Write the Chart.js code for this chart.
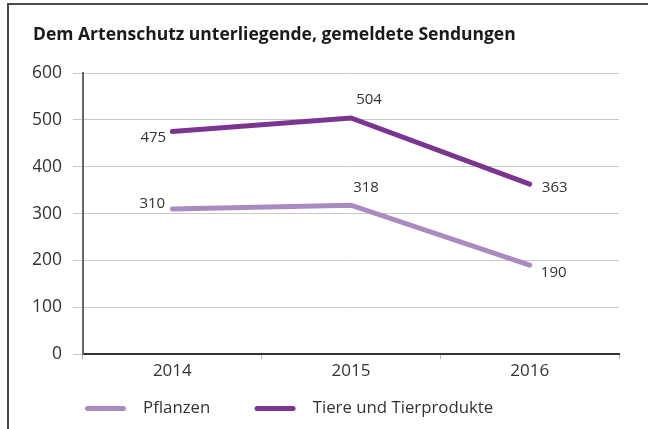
<!DOCTYPE html>
<html>
<head>
<meta charset="utf-8">
<script src="https://cdn.jsdelivr.net/npm/chart.js@4"></script>
<style>
  body { margin: 0; background: #fff; }
  #wrap { position: relative; width: 648px; height: 429px; overflow: hidden; }
  #frame { position: absolute; left: 7px; top: 3px; width: 700px; height: 500px;
           border-left: 2px solid #4a4a4a; border-top: 2px solid #4a4a4a; }
  canvas { position: absolute; left: 0; top: 0; }
</style>
</head>
<body>
<div id="wrap">
  <div id="frame"></div>
  <canvas id="chart" width="648" height="429"></canvas>
</div>
<script>
// Daten
const jahre = ['2014', '2015', '2016'];
const pflanzen = [310, 318, 190];
const tiere = [475, 504, 363];

// Farben
const colorTiere = '#7b3590';
const colorPflanzen = '#a98bc2';

const fontFamily = '"Open Sans", sans-serif';

// Versatz der Wertbeschriftungen je Punkt (px)
const labelOffsets = [
    [[-20, -5], [15, -17], [24, 8]],
    [[-19, 6], [18, -18], [25, 4]]
];

const valueLabels = {
    id: 'valueLabels',
    afterDatasetsDraw: (chart) => {
        const ctx = chart.ctx;
        ctx.save();
        ctx.font = '15px ' + fontFamily;
        ctx.fillStyle = '#333';
        ctx.textAlign = 'center';
        ctx.textBaseline = 'middle';
        chart.data.datasets.forEach((ds, i) => {
            const meta = chart.getDatasetMeta(i);
            meta.data.forEach((pt, j) => {
                const off = labelOffsets[i][j];
                ctx.fillText(String(ds.data[j]), pt.x + off[0], pt.y + off[1]);
            });
        });
        ctx.restore();
    }
};

const config = {
    type: 'line',
    data: {
        labels: jahre,
        datasets: [{
            label: 'Pflanzen',
            data: pflanzen,
            borderColor: colorPflanzen,
            backgroundColor: colorPflanzen,
            borderWidth: 5,
            pointRadius: 0,
            borderCapStyle: 'round',
            tension: 0
        }, {
            label: 'Tiere und Tierprodukte',
            data: tiere,
            borderColor: colorTiere,
            backgroundColor: colorTiere,
            borderWidth: 5,
            pointRadius: 0,
            borderCapStyle: 'round',
            tension: 0
        }]
    },
    options: {
        responsive: false,
        animation: false,
        layout: { padding: { left: 33, right: 29, top: 0, bottom: 2 } },
        plugins: {
            tooltip: { enabled: false },
            title: {
                display: true,
                text: 'Dem Artenschutz unterliegende, gemeldete Sendungen',
                align: 'start',
                color: '#1a1a1a',
                font: { family: fontFamily, size: 17.5, weight: 'bold' },
                padding: { top: 24.5, bottom: 27.5 }
            },
            legend: {
                position: 'bottom',
                align: 'start',
                fullSize: false,
                labels: {
                    boxWidth: 41,
                    boxHeight: 5,
                    useBorderRadius: true,
                    borderRadius: 2.5,
                    padding: 2,
                    color: '#333',
                    font: { family: fontFamily, size: 16.8 },
                    generateLabels: (chart) => {
                        const items = Chart.defaults.plugins.legend.labels.generateLabels(chart);
                        return items.map((it, i) => {
                            it.lineWidth = 0;
                            it.text = '  ' + it.text + (i === 0 ? '\u2003\u2003  ' : '');
                            return it;
                        });
                    }
                }
            }
        },
        scales: {
            x: {
                offset: true,
                grid: { offset: true, drawOnChartArea: false, tickLength: 5, color: '#bbb' },
                border: { display: true, color: '#333', width: 2 },
                ticks: { color: '#333', padding: 2, font: { family: fontFamily, size: 17 } },
                afterFit: (scale) => { scale.height = 44; }
            },
            y: {
                min: 0,
                max: 600,
                ticks: { stepSize: 100, color: '#333', padding: 11, font: { family: fontFamily, size: 17.5 } },
                grid: { color: '#c8c8c8', tickLength: 10, lineWidth: 1 },
                border: { display: true, color: '#666', width: 2 },
                afterFit: (scale) => { scale.width = 50; }
            }
        }
    },
    plugins: [valueLabels]
};

new Chart(document.getElementById('chart'), config);
</script>
</body>
</html>
